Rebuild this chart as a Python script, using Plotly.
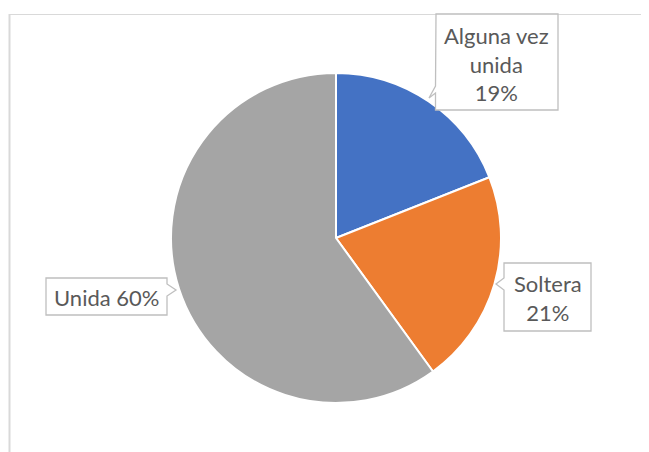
import plotly.graph_objects as go

labels = ["Alguna vez unida", "Soltera", "Unida"]
values = [19, 21, 60]
label_texts = ["Alguna vez<br>unida<br>19%", "Soltera<br>21%", "Unida 60%"]
colors = ["#4472C4", "#ED7D31", "#A5A5A5"]

# page body adds an 8px offset; size the figure to the visible area
OFF = 8
W, H = 649 - OFF, 452 - OFF

def px(x):
    return (x - OFF) / W

def py(y):
    return 1 - (y - OFF) / H

def path(points):
    s = "M " + " L ".join(f"{px(x):.5f},{py(y):.5f}" for x, y in points) + " Z"
    return s

fig = go.Figure()
fig.add_trace(go.Pie(
    labels=labels, values=values, sort=False, direction="clockwise", rotation=0,
    marker=dict(colors=colors, line=dict(color="white", width=2)),
    textinfo="none", hoverinfo="label+percent",
    domain=dict(x=[px(171), px(501)], y=[py(403), py(73)]),
    showlegend=False,
))

border = "#BFBFBF"
shapes = [
    # chart frame
    dict(type="line", xref="paper", yref="paper", x0=px(9.5), y0=py(14), x1=px(9.5), y1=py(470),
         line=dict(color="#D9D9D9", width=2)),
    dict(type="line", xref="paper", yref="paper", x0=px(9.5), y0=py(14.5), x1=px(670), y1=py(14.5),
         line=dict(color="#D9D9D9", width=1)),
    # callouts
    dict(type="path", xref="paper", yref="paper",
         path=path([(436, 14), (435.5, 86), (429, 98), (435.5, 93), (435.5, 110), (558, 110), (558, 14)]),
         line=dict(color=border, width=1.3), fillcolor="white"),
    dict(type="path", xref="paper", yref="paper",
         path=path([(504, 263), (504, 278), (496, 284), (504, 290), (504, 331), (591, 331), (591, 263)]),
         line=dict(color=border, width=1.3), fillcolor="white"),
    dict(type="path", xref="paper", yref="paper",
         path=path([(46, 278), (167, 278), (167, 284), (176, 290), (167, 296), (167, 315), (46, 315)]),
         line=dict(color=border, width=1.3), fillcolor="white"),
]

font = dict(family="Lato, Calibri, sans-serif", size=22, color="#595959")
annotations = [
    dict(x=px(496.5), y=py(64), text=label_texts[0]),
    dict(x=px(547.5), y=py(298), text=label_texts[1]),
    dict(x=px(106.5), y=py(297), text=label_texts[2]),
]
for a in annotations:
    a.update(xref="paper", yref="paper", showarrow=False, font=font, align="center",
             xanchor="center", yanchor="middle")

fig.update_layout(
    width=W, height=H, margin=dict(l=0, r=0, t=0, b=0),
    paper_bgcolor="white", plot_bgcolor="white",
    shapes=shapes, annotations=annotations,
)

fig.write_html("out.html")
